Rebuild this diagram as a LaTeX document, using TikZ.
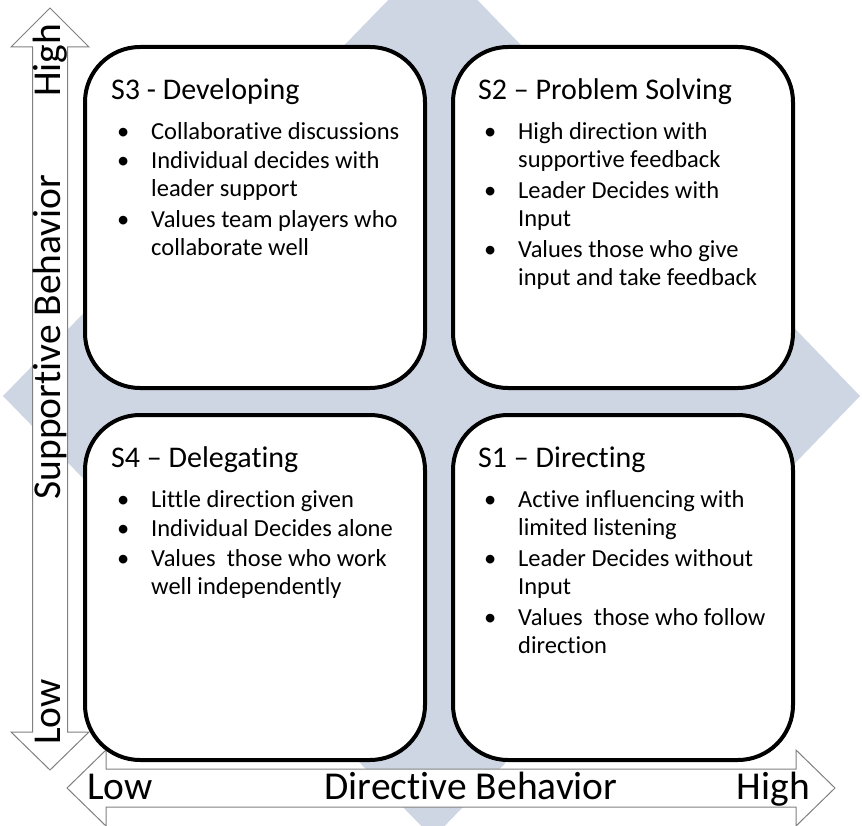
\documentclass[tikz,border=0pt]{standalone}
\usepackage{fontspec}
\setmainfont{Carlito}[Ligatures=NoCommon]
\definecolor{diam}{RGB}{206,214,228}
\definecolor{arrgray}{RGB}{128,128,128}
\tikzset{
  quad/.style={draw=black, line width=4pt, fill=white, rounded corners=55pt},
  bigarrow/.style={draw=arrgray, line width=1pt, fill=white},
  axislabel/.style={font=\fontsize{39.5}{44}\selectfont, inner sep=0pt},
  qtitle/.style={font=\fontsize{30}{34}\selectfont, anchor=base west, inner sep=0pt},
  qlist/.style={font=\fontsize{24.5}{28}\selectfont, anchor=base west, inner sep=0pt}
}
\newcommand\qbul{\makebox[36pt][l]{\hspace*{2pt}•}}
\begin{document}
\begin{tikzpicture}[x=1pt,y=-1pt]
\useasboundingbox (0,0) rectangle (862,826);
% background diamond
\fill[diam] (3,396) -- (433,-46) -- (860,396) -- (433,838) -- cycle;
% vertical double arrow
\draw[bigarrow] (50,8) -- (89,47) -- (67.5,47) -- (67.5,732) -- (89,732) -- (50,770)
  -- (11,732) -- (32.5,732) -- (32.5,47) -- (11,47) -- cycle;
% horizontal double arrow
\draw[bigarrow] (67,788) -- (106,750) -- (106,769) -- (796,769) -- (796,750) -- (835,788)
  -- (796,826) -- (796,807) -- (106,807) -- (106,826) -- cycle;
% quadrant boxes
\draw[quad] (85,47) rectangle (425,388);
\draw[quad] (453,47) rectangle (793,388);
\draw[quad] (85,415) rectangle (425,760);
\draw[quad] (453,415) rectangle (793,760);
% axis labels
\node[axislabel, rotate=90, anchor=base west] (vhigh) at (60,97) {High};
\node[axislabel, rotate=90, anchor=base] (vlab) at (60,337) {Supportive Behavior};
\node[axislabel, rotate=90, anchor=base west] (vlow) at (60,745) {Low};
\node[axislabel, anchor=base west] (hlow) at (87,799) {Low};
\node[axislabel, anchor=base] (hlab) at (471,799) {Directive Behavior};
\node[axislabel, anchor=base east] (hhigh) at (810,799) {High};
% S3
\node[qtitle] (t3) at (111,100) {S3 - Developing};
\node[qlist] (l3) at (115,140) {\begin{tabular}[t]{@{}l@{}l@{}}
\qbul & Collaborative discussions\\[1pt]
\qbul & Individual decides with\\
 & leader support\\[3pt]
\qbul & Values team players who\\
 & collaborate well
\end{tabular}};
% S2
\node[qtitle] (t2) at (478,100) {S2 – Problem Solving};
\node[qlist] (l2) at (482,140) {\begin{tabular}[t]{@{}l@{}l@{}}
\qbul & High direction with\\
 & supportive feedback\\[3pt]
\qbul & Leader Decides with\\
 & Input\\[3pt]
\qbul & Values those who give\\
 & input and take feedback
\end{tabular}};
% S4
\node[qtitle] (t4) at (111,467) {S4 – Delegating};
\node[qlist] (l4) at (115,507) {\begin{tabular}[t]{@{}l@{}l@{}}
\qbul & Little direction given\\[1pt]
\qbul & Individual Decides alone\\[2pt]
\qbul & Values\ \ those who work\\
 & well independently
\end{tabular}};
% S1
\node[qtitle] (t1) at (478,467) {S1 – Directing};
\node[qlist] (l1) at (482,507) {\begin{tabular}[t]{@{}l@{}l@{}}
\qbul & Active influencing with\\
 & limited listening\\[3pt]
\qbul & Leader Decides without\\
 & Input\\[3pt]
\qbul & Values\ \ those who follow\\
 & direction
\end{tabular}};
\end{tikzpicture}
\end{document}
